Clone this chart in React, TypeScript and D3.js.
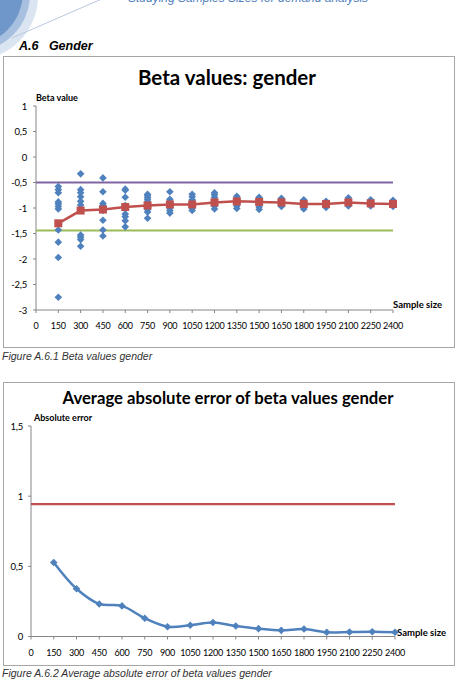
import React from "react";
import * as d3 from "d3";

const sampleSizes = [150, 300, 450, 600, 750, 900, 1050, 1200, 1350, 1500, 1650, 1800, 1950, 2100, 2250, 2400];
const xTicks = [0, 150, 300, 450, 600, 750, 900, 1050, 1200, 1350, 1500, 1650, 1800, 1950, 2100, 2250, 2400];

const betaRuns: number[][] = [
  [-0.58, -0.64, -0.70, -0.88, -0.92, -0.97, -1.02, -1.43, -1.67, -1.97, -2.75],
  [-0.33, -0.64, -0.70, -0.78, -0.87, -0.94, -1.05, -1.53, -1.57, -1.62, -1.75],
  [-0.41, -0.68, -0.91, -0.95, -0.98, -1.05, -1.24, -1.43, -1.55],
  [-0.63, -0.65, -0.79, -0.95, -1.02, -1.12, -1.17, -1.25, -1.37],
  [-0.73, -0.76, -0.80, -0.84, -0.88, -0.93, -0.98, -1.03, -1.08, -1.20],
  [-0.68, -0.83, -0.88, -0.92, -0.96, -1.00, -1.05, -1.10],
  [-0.73, -0.78, -0.84, -0.90, -0.95, -1.00, -1.05],
  [-0.70, -0.74, -0.79, -0.84, -0.90, -0.96, -1.02],
  [-0.77, -0.81, -0.86, -0.91, -0.96, -1.01],
  [-0.79, -0.84, -0.88, -0.93, -0.98, -1.03],
  [-0.81, -0.85, -0.89, -0.93, -0.97],
  [-0.84, -0.88, -0.92, -0.96, -1.02],
  [-0.87, -0.90, -0.93, -0.96, -0.99],
  [-0.80, -0.84, -0.88, -0.92, -0.96],
  [-0.84, -0.88, -0.92, -0.96],
  [-0.85, -0.89, -0.93, -0.97],
];
const betaMeans = [-1.30, -1.05, -1.03, -0.98, -0.95, -0.93, -0.93, -0.89, -0.87, -0.88, -0.89, -0.92, -0.92, -0.89, -0.91, -0.92];
const upperBound = -0.5;
const lowerBound = -1.44;
const betaYTicks = [1, 0.5, 0, -0.5, -1, -1.5, -2, -2.5, -3];

const absError = [0.527, 0.34, 0.232, 0.218, 0.13, 0.07, 0.08, 0.10, 0.075, 0.056, 0.044, 0.053, 0.03, 0.032, 0.034, 0.03];
const errorReference = 0.943;
const errYTicks = [1.5, 1, 0.5, 0];

const BLUE = "#4F81BD";
const RED = "#C0504D";
const PURPLE = "#8064A2";
const GREEN = "#9BBB59";
const AXIS = "#868686";
const TITLE_FONT = "Lato, 'Open Sans', sans-serif";
const CAP_FONT = "'Liberation Sans', Arial, sans-serif";

const fmt = (v: number) => String(v).replace(".", ",");

function diamond(cx: number, cy: number, r: number) {
  return `M${cx},${cy - r}L${cx + r},${cy}L${cx},${cy + r}L${cx - r},${cy}Z`;
}

const tickStyle = { fontFamily: TITLE_FONT, fontSize: 9, letterSpacing: -0.25 } as const;

function BetaChart() {
  const x = d3.scaleLinear().domain([0, 2400]).range([36, 393]);
  const y = d3.scaleLinear().domain([-3, 1]).range([310, 106]);
  const line = d3.line<number>().x((_, i) => x(sampleSizes[i])).y((d) => y(d));
  return (
    <g>
      <rect x={3.5} y={56.5} width={451} height={291} fill="#fff" stroke="#a6a6a6" />
      <text x={227} y={85} textAnchor="middle" fontFamily={TITLE_FONT} fontWeight="bold" fontSize={20.5} fill="#000">
        Beta values: gender
      </text>
      <text x={36} y={101} fontFamily={TITLE_FONT} fontWeight="bold" fontSize={9} fill="#000">Beta value</text>
      <line x1={36} x2={36} y1={y(1)} y2={y(-3)} stroke={AXIS} />
      <line x1={36} x2={x(2400)} y1={y(-3)} y2={y(-3)} stroke={AXIS} />
      {betaYTicks.map((t) => (
        <g key={t}>
          <line x1={33} x2={36} y1={y(t)} y2={y(t)} stroke={AXIS} />
          <text x={27} y={y(t) + 3.5} textAnchor="end" {...tickStyle} fontSize={9.5} fill="#000">{fmt(t)}</text>
        </g>
      ))}
      {xTicks.map((t) => (
        <g key={t}>
          <line x1={x(t)} x2={x(t)} y1={y(-3)} y2={y(-3) + 3} stroke={AXIS} />
          <text x={x(t)} y={329} textAnchor="middle" {...tickStyle} fill="#000">{t}</text>
        </g>
      ))}
      <text x={393} y={307.5} fontFamily={TITLE_FONT} fontWeight="bold" fontSize={9.5} fill="#000">Sample size</text>
      <line x1={36} x2={x(2400)} y1={y(upperBound)} y2={y(upperBound)} stroke={PURPLE} strokeWidth={2} />
      <line x1={36} x2={x(2400)} y1={y(lowerBound)} y2={y(lowerBound)} stroke={GREEN} strokeWidth={2} />
      {betaRuns.map((col, i) =>
        col.map((v, j) => <path key={`${i}-${j}`} d={diamond(x(sampleSizes[i]), y(v), 3.8)} fill={BLUE} />)
      )}
      <path d={line(betaMeans) || ""} fill="none" stroke={RED} strokeWidth={2.5} />
      {betaMeans.map((v, i) => (
        <rect key={i} x={x(sampleSizes[i]) - 4} y={y(v) - 4} width={8} height={8} fill={RED} />
      ))}
    </g>
  );
}

function ErrorChart() {
  const x = d3.scaleLinear().domain([0, 2400]).range([31, 395]);
  const y = d3.scaleLinear().domain([0, 1.5]).range([636.5, 426]);
  const line = d3.line<number>().x((_, i) => x(sampleSizes[i])).y((d) => y(d)).curve(d3.curveCatmullRom.alpha(0.5));
  return (
    <g>
      <rect x={3.5} y={382.5} width={451} height={283} fill="#fff" stroke="#a6a6a6" />
      <text x={228} y={404} textAnchor="middle" fontFamily={TITLE_FONT} fontWeight="bold" fontSize={16.7} fill="#000">
        Average absolute error of beta values gender
      </text>
      <text x={34} y={421} fontFamily={TITLE_FONT} fontWeight="bold" fontSize={9} fill="#000">Absolute error</text>
      <line x1={31} x2={31} y1={y(1.5)} y2={y(0)} stroke={AXIS} />
      <line x1={31} x2={x(2400)} y1={y(0)} y2={y(0)} stroke={AXIS} />
      {errYTicks.map((t) => (
        <g key={t}>
          <line x1={28} x2={31} y1={y(t)} y2={y(t)} stroke={AXIS} />
          <text x={23} y={y(t) + 3.5} textAnchor="end" {...tickStyle} fontSize={9.5} fill="#000">{fmt(t)}</text>
        </g>
      ))}
      {xTicks.map((t) => (
        <g key={t}>
          <line x1={x(t)} x2={x(t)} y1={y(0)} y2={y(0) + 3} stroke={AXIS} />
          <text x={x(t)} y={656} textAnchor="middle" {...tickStyle} fill="#000">{t}</text>
        </g>
      ))}
      <text x={397} y={635.5} fontFamily={TITLE_FONT} fontWeight="bold" fontSize={9.5} fill="#000">Sample size</text>
      <line x1={31} x2={x(2400)} y1={y(errorReference)} y2={y(errorReference)} stroke={RED} strokeWidth={2.2} />
      <path d={line(absError) || ""} fill="none" stroke={BLUE} strokeWidth={2.5} />
      {absError.map((v, i) => (
        <path key={i} d={diamond(x(sampleSizes[i]), y(v), 3.8)} fill={BLUE} />
      ))}
    </g>
  );
}

export default function App() {
  return (
    <div style={{ position: "absolute", left: 0, top: 0 }}>
      <svg width={458} height={690} style={{ display: "block", background: "#fff" }}>
        <rect width={458} height={690} fill="#fff" />
        <circle cx={-26} cy={-4} r={64} fill="#dbe5f1" />
        <circle cx={-28} cy={-6} r={58} fill="#a7c0df" />
        <circle cx={-31} cy={-8} r={54} fill="#6f97c9" />
        <line x1={12} y1={38} x2={104} y2={-2} stroke="#b8c7dd" strokeWidth={1} />
        <text x={128} y={2} fontFamily={CAP_FONT} fontStyle="italic" fontSize={12} fill="#4F81BD">
          Studying Samples Sizes for demand analysis
        </text>
        <text x={19} y={50} fontFamily={CAP_FONT} fontStyle="italic" fontWeight="bold" fontSize={12.5} fill="#000">
          A.6{"\u00a0\u00a0\u00a0"}Gender
        </text>
        <BetaChart />
        <text x={2} y={360} fontFamily={CAP_FONT} fontStyle="italic" fontSize={10.5} fill="#333">
          Figure A.6.1 Beta values gender
        </text>
        <ErrorChart />
        <text x={2} y={676.5} fontFamily={CAP_FONT} fontStyle="italic" fontSize={10.5} fill="#333">
          Figure A.6.2 Average absolute error of beta values gender
        </text>
      </svg>
    </div>
  );
}
